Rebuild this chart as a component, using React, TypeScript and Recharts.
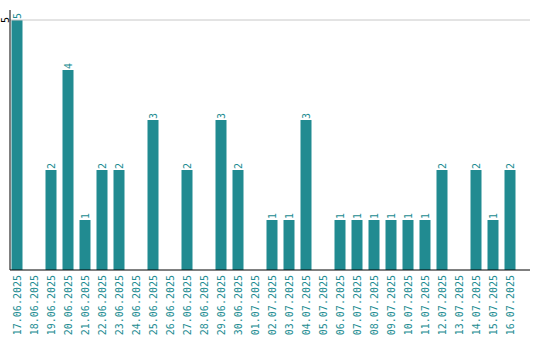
import { BarChart, Bar, XAxis, YAxis, LabelList, ReferenceLine } from 'recharts';

const dates = [
  '17.06.2025', '18.06.2025', '19.06.2025', '20.06.2025', '21.06.2025', '22.06.2025',
  '23.06.2025', '24.06.2025', '25.06.2025', '26.06.2025', '27.06.2025', '28.06.2025',
  '29.06.2025', '30.06.2025', '01.07.2025', '02.07.2025', '03.07.2025', '04.07.2025',
  '05.07.2025', '06.07.2025', '07.07.2025', '08.07.2025', '09.07.2025', '10.07.2025',
  '11.07.2025', '12.07.2025', '13.07.2025', '14.07.2025', '15.07.2025', '16.07.2025',
];
const counts = [5, 0, 2, 4, 1, 2, 2, 0, 3, 0, 2, 0, 3, 2, 0, 1, 1, 3, 0, 1, 1, 1, 1, 1, 1, 2, 0, 2, 1, 2];
const yTicks = [5];

const data = dates.map((d, i) => ({ date: d, count: counts[i] }));

const TEAL = '#218b91';
const FONT = '"DejaVu Sans Mono", monospace';

const DateTick = ({ x, y, payload }: any) => (
  <text
    x={0}
    y={0}
    transform={`translate(${x},${y - 3}) rotate(-90)`}
    textAnchor="end"
    dy="0.35em"
    fill={TEAL}
    fontSize={10}
    fontFamily={FONT}
  >
    {payload.value}
  </text>
);

const CountTick = ({ y, payload }: any) => (
  <text
    x={0}
    y={0}
    transform={`translate(5.5,${y}) rotate(-90)`}
    textAnchor="middle"
    dy="0.35em"
    fill="#000"
    fontSize={10}
    fontFamily={FONT}
  >
    {payload.value}
  </text>
);

const ValueLabel = ({ x, y, width, value }: any) => {
  if (!value) return null;
  const cx = x + width / 2;
  return (
    <text
      x={0}
      y={0}
      transform={`translate(${cx},${y - 1}) rotate(-90)`}
      textAnchor="start"
      dy="0.35em"
      fill={TEAL}
      fontSize={10}
      fontFamily={FONT}
    >
      {value}
    </text>
  );
};

export default function App() {
  return (
    <div style={{ position: 'absolute', left: 0, top: 0, background: '#fff' }}>
      <BarChart
        width={540}
        height={340}
        data={data}
        margin={{ top: 10, right: 10, bottom: 0, left: 0 }}
        barCategoryGap={3}
      >
        <ReferenceLine y={5} stroke="#c8c8c8" />
        <XAxis
          dataKey="date"
          interval={0}
          height={70}
          padding={{ left: -1.5, right: 11.5 }}
          axisLine={{ stroke: '#000' }}
          tickLine={false}
          tick={<DateTick />}
        />
        <YAxis
          width={10}
          domain={[0, 5.2]}
          ticks={yTicks}
          axisLine={{ stroke: '#000' }}
          tickLine={false}
          tick={<CountTick />}
        />
        <Bar dataKey="count" fill={TEAL} isAnimationActive={false}>
          <LabelList dataKey="count" content={<ValueLabel />} />
        </Bar>
      </BarChart>
    </div>
  );
}
